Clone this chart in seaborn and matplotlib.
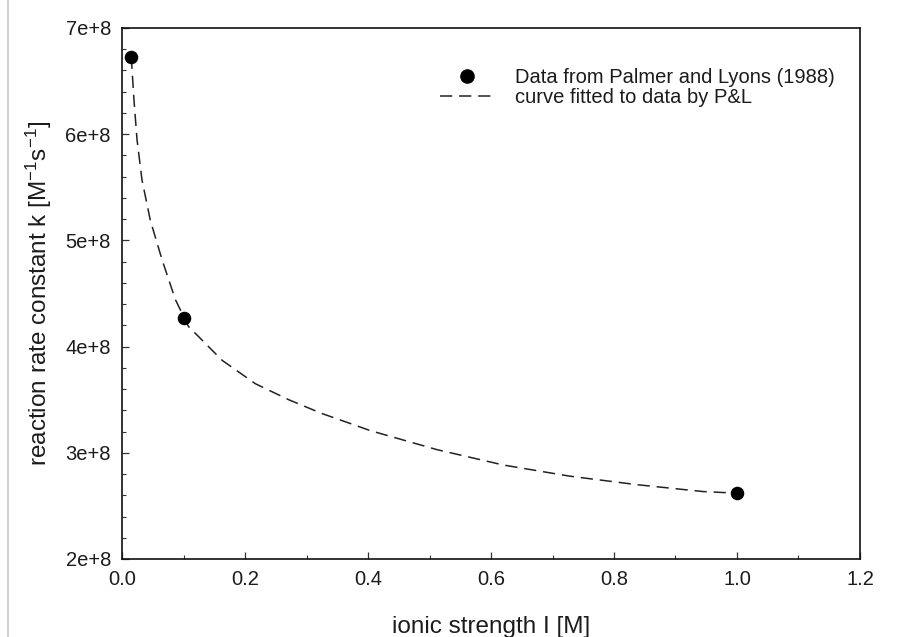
import matplotlib
matplotlib.use("Agg")
import matplotlib.pyplot as plt
from matplotlib.ticker import MultipleLocator, FuncFormatter
from matplotlib.lines import Line2D
import seaborn as sns

# Measured rate constants (Palmer and Lyons, 1988)
ionic_strength = [0.015, 0.1, 1.0]
rate_constant = [6.73e8, 4.27e8, 2.62e8]

# Fitted curve by P&L, sampled along ionic strength
fit_ionic_strength = [0.015, 0.0195, 0.0244, 0.0325, 0.046, 0.065, 0.087, 0.108,
                      0.163, 0.217, 0.271, 0.325, 0.379, 0.403, 0.512, 0.620,
                      0.728, 0.837, 0.945, 1.0]
fit_rate_constant = [6.73e8, 6.32e8, 5.95e8, 5.57e8, 5.19e8, 4.82e8, 4.44e8, 4.19e8,
                     3.87e8, 3.65e8, 3.50e8, 3.37e8, 3.26e8, 3.21e8, 3.03e8, 2.885e8,
                     2.78e8, 2.70e8, 2.635e8, 2.62e8]

x_ticks = [0.0, 0.2, 0.4, 0.6, 0.8, 1.0, 1.2]
y_ticks = [2e8, 3e8, 4e8, 5e8, 6e8, 7e8]

sns.set_theme(style="ticks")
plt.rcParams["font.family"] = ["Liberation Sans", "DejaVu Sans"]
plt.rcParams["mathtext.default"] = "regular"

text_color = "#1c1c1c"
dash_pattern = [8, 4.5]

fig = plt.figure(figsize=(9.2, 6.37), dpi=100)
ax = fig.add_axes([122 / 920, 1 - 559 / 637, (860 - 122) / 920, (559 - 28) / 637])

sns.lineplot(x=fit_ionic_strength, y=fit_rate_constant, ax=ax, color="#222222",
             linewidth=1.1, sort=True, estimator=None)
curve = ax.lines[-1]
curve.set_dashes(dash_pattern)

sns.scatterplot(x=ionic_strength, y=rate_constant, ax=ax, color="black",
                s=95, edgecolor="black", linewidth=0, zorder=3)

ax.set_xlim(0, 1.2)
ax.set_ylim(2e8, 7e8)
ax.set_xticks(x_ticks)
ax.set_yticks(y_ticks)
ax.xaxis.set_minor_locator(MultipleLocator(0.1))
ax.yaxis.set_minor_locator(MultipleLocator(0.2e8))
ax.xaxis.set_major_formatter(FuncFormatter(lambda v, p: f"{v:.1f}"))
ax.yaxis.set_major_formatter(FuncFormatter(lambda v, p: f"{v / 1e8:.0f}e+8"))

ax.tick_params(axis="both", which="major", direction="in", length=5, width=0.9,
               labelsize=14.5, pad=8, colors="#333333", labelcolor=text_color)
ax.tick_params(axis="both", which="minor", direction="in", length=3, width=0.8,
               colors="#333333")
ax.tick_params(top=False, right=False, which="both")

for side in ["left", "right", "top", "bottom"]:
    ax.spines[side].set_visible(True)
    ax.spines[side].set_color("#111111")
    ax.spines[side].set_linewidth(1.2)

ax.set_xlabel("ionic strength I [M]", fontsize=17.5, color=text_color, labelpad=19)
ax.set_ylabel("reaction rate constant k [M$^{-1}$s$^{-1}$]", fontsize=17.5,
              color=text_color, labelpad=8.5)

handles = [
    Line2D([], [], linestyle="none", marker="o", markersize=9.5, color="black"),
    Line2D([], [], color="#222222", linewidth=1.1, dashes=dash_pattern),
]
labels = ["Data from Palmer and Lyons (1988)", "curve fitted to data by P&L"]
ax.legend(handles, labels, loc="upper left", bbox_to_anchor=(0.431, 0.924),
          frameon=False, fontsize=14.5, handlelength=2.7, handletextpad=1.0,
          borderpad=0, borderaxespad=0, labelspacing=0.05, labelcolor=text_color)

# faint page edge on the left
fig.add_artist(Line2D([8 / 920, 8 / 920], [0, 1], transform=fig.transFigure,
                      color="#d0d0d0", linewidth=1.5))

fig.savefig("out.png", dpi=100, facecolor="white")
